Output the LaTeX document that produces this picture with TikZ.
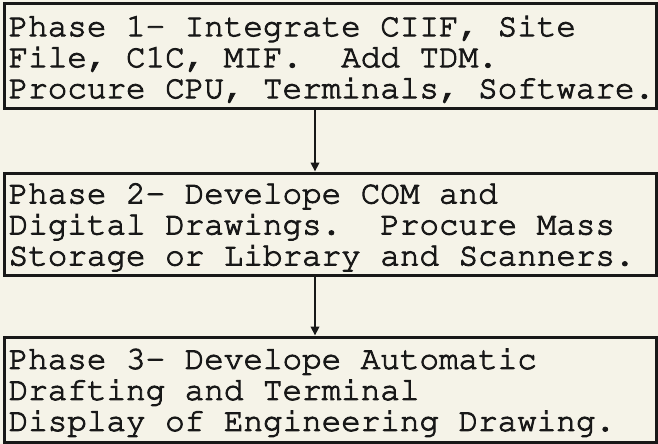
\documentclass[tikz,border=0pt]{standalone}
\usepackage[T1]{fontenc}
\usetikzlibrary{arrows.meta}
\definecolor{paper}{RGB}{245,243,232}
\definecolor{ink}{RGB}{24,24,24}
\frenchspacing
\begin{document}
\begin{tikzpicture}[x=1pt,y=-1pt,
  phasebox/.style={draw=ink, line width=3pt, rectangle, minimum width=651.5pt, inner sep=0pt},
  phasetext/.style={anchor=west, align=left, inner xsep=5.5pt, inner ysep=0pt, text=ink,
    font=\fontfamily{pcr}\fontsize{32.6}{31}\selectfont\special{pdf:literal direct 2 Tr 0.9 w}},
  flow/.style={draw=ink, line width=2.4pt, -{Triangle[length=9pt,width=8.5pt]}}]
\fill[paper] (0,0) rectangle (658,444);
\useasboundingbox (0,0) rectangle (658,444);
\node[phasebox, minimum height=104pt] (p1) at (330.25,56) {};
\node[phasebox, minimum height=102pt] (p2) at (330.25,224) {};
\node[phasebox, minimum height=105pt] (p3) at (330.25,389.5) {};
\node[phasetext] (t1) at ([yshift=-2.5pt]p1.west) {Phase 1- Integrate CIIF, Site\\File, C1C, MIF.\ \ Add TDM.\\Procure CPU, Terminals, Software.};
\node[phasetext] (t2) at ([yshift=-2.5pt]p2.west) {Phase 2- Develope COM and\\Digital Drawings.\ \ Procure Mass\\Storage or Library and Scanners.};
\node[phasetext] (t3) at ([yshift=-2.5pt]p3.west) {Phase 3- Develope Automatic\\Drafting and Terminal\\Display of Engineering Drawing.};
\coordinate (ax) at (315,0);
\draw[flow] (p1.south -| ax) -- (p2.north -| ax);
\draw[flow] (p2.south -| ax) -- (p3.north -| ax);
\end{tikzpicture}
\end{document}
